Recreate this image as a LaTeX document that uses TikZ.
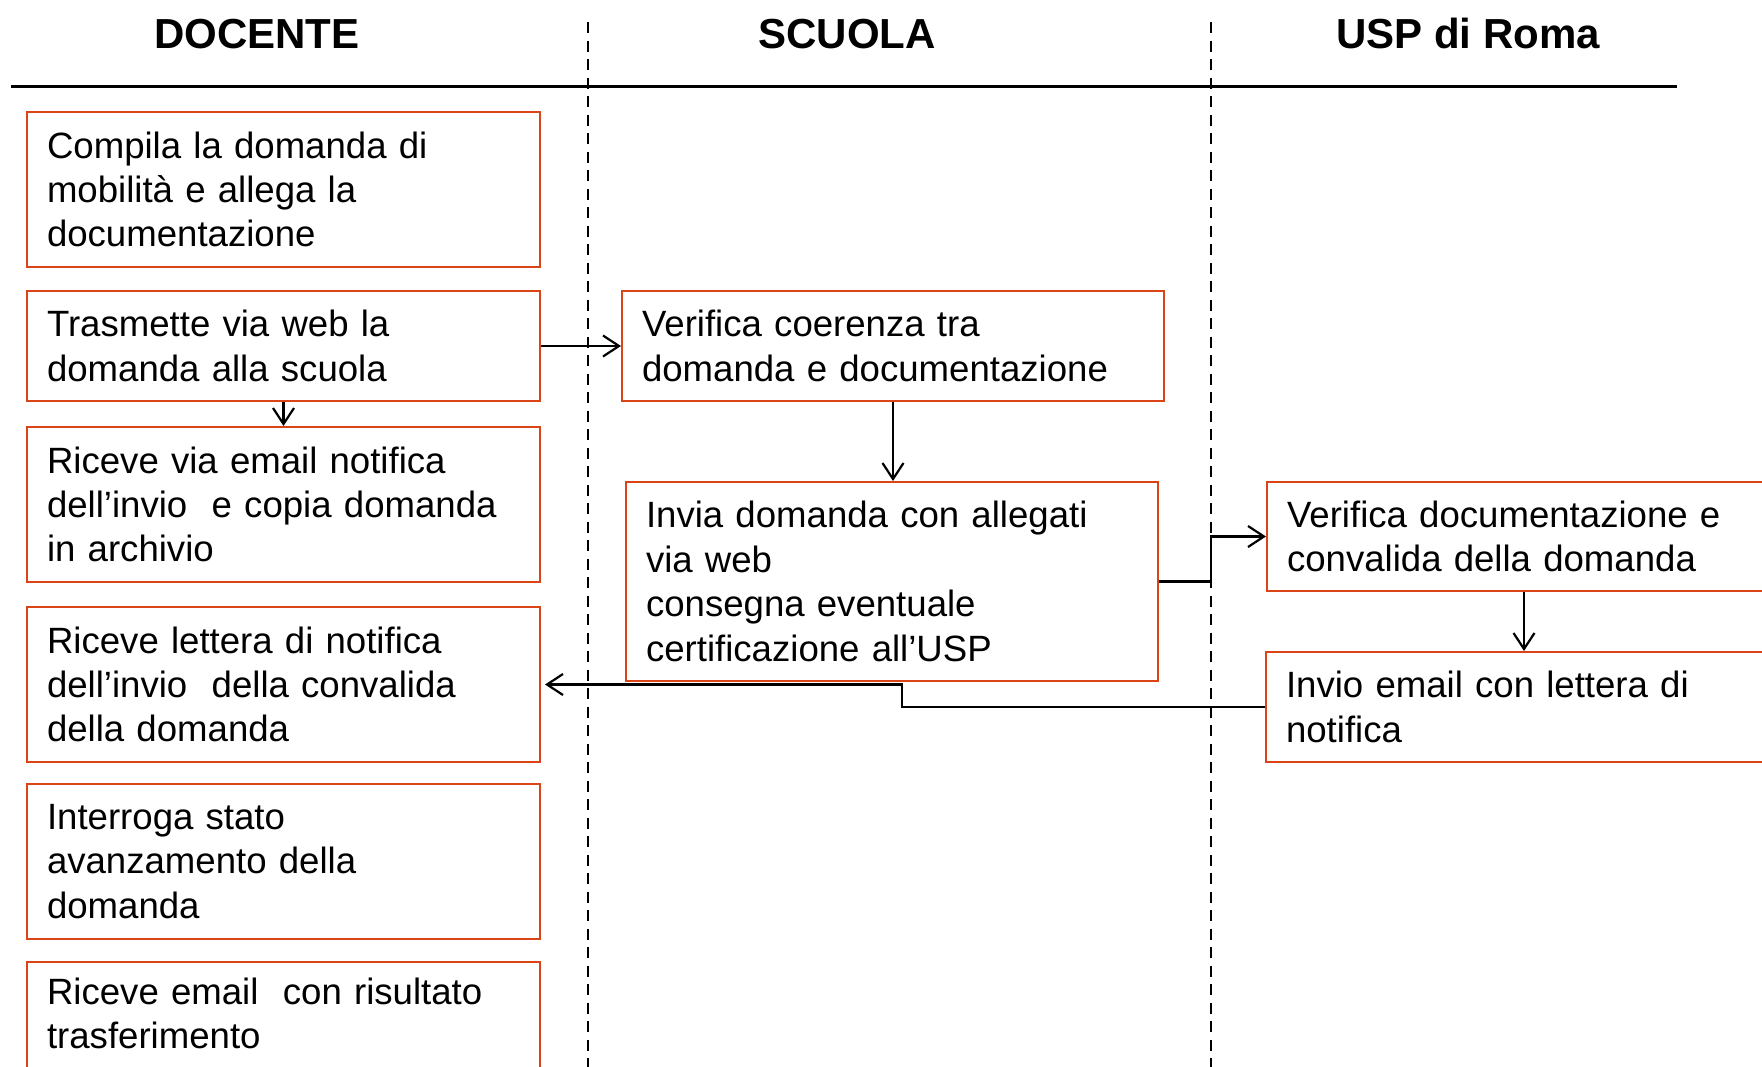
\documentclass[tikz,border=0pt]{standalone}
\usepackage{fontspec}
\setmainfont{Liberation Sans}
\usetikzlibrary{arrows.meta}
\definecolor{boxc}{RGB}{218,68,22}
\tikzset{
  stepbox/.style={draw=boxc, line width=2pt, anchor=north west, inner xsep=20pt, inner ysep=0pt,
    align=left, font=\fontsize{36.6}{44.4}\selectfont},
  hdr/.style={anchor=base, font=\fontsize{42}{50}\selectfont\bfseries},
  lane/.style={line width=2.6pt, dash pattern=on 11pt off 7.5pt},
  arr/.style={line width=2.2pt, -{Straight Barb[length=16pt,width=21pt,line width=2.2pt]}}
}
\begin{document}
\begin{tikzpicture}[x=1pt,y=-1pt]
\clip (0,0) rectangle (1762,1066);
\fill[white] (0,0) rectangle (1762,1066);
% headers
\node[hdr] (hD) at (257,48) {DOCENTE};
\node[hdr] (hS) at (847,48) {SCUOLA};
\node[hdr] (hU) at (1468,48) {USP di Roma};
\draw[line width=3pt] (11,86.5) -- (1677,86.5);
% lanes
\draw[lane] (588,22) -- (588,1070);
\draw[lane] (1211,22) -- (1211,1070);
\coordinate (lane2) at (1211,0);
\coordinate (ux) at (1524,0);
\coordinate (mx) at (902,0);
% docente
\node[stepbox, text width=473pt, minimum height=155pt] (d1) at (26,111) {Compila la domanda di\\mobilità e allega la\\documentazione};
\node[stepbox, text width=473pt, minimum height=110pt] (d2) at (26,290) {Trasmette via web la\\domanda alla scuola};
\node[stepbox, text width=473pt, minimum height=155pt] (d3) at (26,426) {Riceve via email notifica\\dell’invio\ \ e copia domanda\\in archivio};
\node[stepbox, text width=473pt, minimum height=155pt] (d4) at (26,606) {Riceve lettera di notifica\\dell’invio\ \ della convalida\\della domanda};
\node[stepbox, text width=473pt, minimum height=155pt] (d5) at (26,783) {Interroga stato\\avanzamento della\\domanda};
\node[stepbox, text width=473pt, minimum height=155pt] (d6) at (26,961) {Riceve email\ \ con risultato\\trasferimento\\\vphantom{Ag}};
% scuola
\node[stepbox, text width=502pt, minimum height=110pt] (s1) at (621,290) {Verifica coerenza tra\\domanda e documentazione};
\node[stepbox, text width=492pt, minimum height=199pt] (s2) at (625,481) {Invia domanda con allegati\\via web\\consegna eventuale\\certificazione all’USP};
% usp
\node[stepbox, text width=540pt, minimum height=109pt] (u1) at (1266,481) {Verifica documentazione e\\convalida della domanda};
\node[stepbox, text width=540pt, minimum height=110pt] (u2) at (1265,651) {Invio email con lettera di\\notifica};
% connectors
\draw[arr] (d2.east) -- (s1.west);
\draw[arr] (d2.south) -- (d3.north);
\draw[arr] (s1.south) -- (s1.south |- s2.north);
\draw[arr] (s2.east) -- (s2.east -| lane2) |- (u1.west);
\draw[arr] (u1.south -| ux) -- (u2.north -| ux);
\draw[arr, shorten >=4pt] (u2.west) -| (d4.east -| mx) -- (d4.east);
\end{tikzpicture}
\end{document}
